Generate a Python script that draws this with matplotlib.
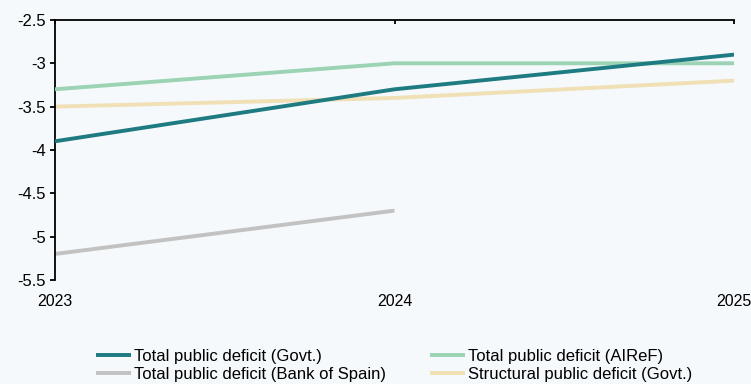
import matplotlib.pyplot as plt

years = [2023, 2024, 2025]
govt_total = [-3.9, -3.3, -2.9]
airef_total = [-3.3, -3.0, -3.0]
bde_years = [2023, 2024]
bde_total = [-5.2, -4.7]
govt_structural = [-3.5, -3.4, -3.2]

labels = [
    "Total public deficit (Govt.)",
    "Total public deficit (AIReF)",
    "Total public deficit (Bank of Spain)",
    "Structural public deficit (Govt.)",
]
colors = ["#1e7b82", "#9bd3b4", "#c2c2c2", "#f1dfb5"]

plt.rcParams["font.family"] = ["Liberation Sans", "DejaVu Sans"]

bg = "#f5f9fb"
fig = plt.figure(figsize=(7.51, 3.84), dpi=100, facecolor=bg)
ax = fig.add_axes([0.0732, 0.271, 0.9042, 0.677], facecolor=bg)

lw = 2.8
l1, = ax.plot(years, govt_total, color=colors[0], lw=lw, solid_capstyle="butt", zorder=4)
l2, = ax.plot(years, airef_total, color=colors[1], lw=lw, solid_capstyle="butt", zorder=3)
l3, = ax.plot(bde_years, bde_total, color=colors[2], lw=lw, solid_capstyle="butt", zorder=2)
l4, = ax.plot(years, govt_structural, color=colors[3], lw=lw, solid_capstyle="butt", zorder=1)

ax.set_xlim(2023, 2025)
ax.set_ylim(-5.5, -2.5)
ax.set_xticks(years)
ax.set_xticklabels([str(y) for y in years], fontsize=11.5)
ax.set_yticks([-5.5, -5, -4.5, -4, -3.5, -3, -2.5])
ax.set_yticklabels(["-5.5", "-5", "-4.5", "-4", "-3.5", "-3", "-2.5"], fontsize=12)

for s in ["right", "bottom"]:
    ax.spines[s].set_visible(False)
ax.spines["left"].set_linewidth(1.3)
ax.spines["top"].set_linewidth(1.3)

# x axis line sits at the top of the plot, labels stay below
ax.tick_params(axis="x", top=True, bottom=False, labeltop=False, labelbottom=True,
               direction="in", length=3, width=1.3, pad=10)
ax.tick_params(axis="y", direction="out", length=3.6, width=1.3, pad=3)

fig.legend([l1, l3, l2, l4], [labels[0], labels[2], labels[1], labels[3]],
           ncol=2, loc="upper left", bbox_to_anchor=(0.117, 0.113),
           frameon=False, borderpad=0, handlelength=2.1, handletextpad=0.18,
           columnspacing=2.6, labelspacing=0.2, fontsize=12)

fig.savefig("out.png", dpi=100, facecolor=bg)
